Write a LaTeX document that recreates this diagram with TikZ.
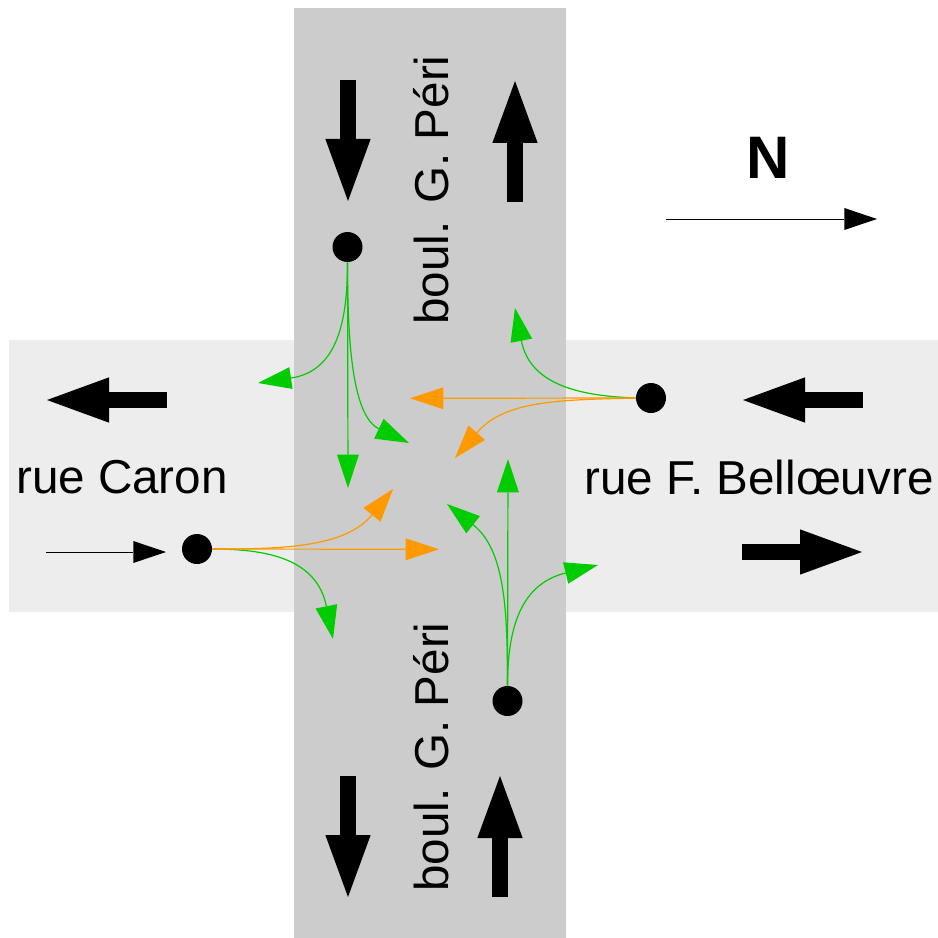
\documentclass[tikz,border=0pt]{standalone}
\usepackage{fontspec}
\setmainfont{Liberation Sans}
\usetikzlibrary{arrows.meta}
\definecolor{roadlight}{HTML}{EDEDED}
\definecolor{roaddark}{HTML}{CCCCCC}
\definecolor{turngreen}{HTML}{00CC00}
\definecolor{turnorange}{HTML}{FF9900}
\tikzset{
  dot/.style={circle,fill=black,inner sep=0pt,minimum size=22.5pt},
  streetlabel/.style={inner sep=0pt,font=\fontsize{35.7}{40}\selectfont},
  bigarrow/.style={line width=12pt,-{Triangle[length=46.5pt,width=34pt,line width=0pt]}},
  thinarrow/.style={line width=.5pt,-{Triangle[length=24.5pt,width=16.5pt,line width=0pt]}},
  turn/.style={line width=.9pt,-{Triangle[length=25pt,width=16.5pt,line width=0pt]}},
  turng/.style={turn,color=turngreen},
  turno/.style={turn,color=turnorange},
}
\begin{document}
\begin{tikzpicture}[x=.75pt,y=-.75pt]
\useasboundingbox (0,0) rectangle (938,938);
\fill[roadlight] (9,340) rectangle (938,612);
\fill[roaddark] (294,8) rectangle (566,938);
% labels
\node[streetlabel,rotate=90] (periN) at (431,190) {boul. G. Péri};
\node[streetlabel,rotate=90] (periS) at (431,757) {boul. G. Péri};
\node[streetlabel] (caron) at (122,477) {rue Caron};
\node[streetlabel] (bell) at (759,477) {rue F. Bellœuvre};
\node[inner sep=0pt,font=\fontsize{45}{50}\selectfont\bfseries] (north) at (768,158) {N};
% dots
\node[dot] (dN) at (347.5,247) {};
\node[dot] (dW) at (197,549) {};
\node[dot] (dE) at (651,398) {};
\node[dot] (dS) at (507.5,701) {};
% big arrows
\coordinate (a1s) at (348,80);  \coordinate (a1e) at (348,201);
\coordinate (a2s) at (515,202); \coordinate (a2e) at (515,81);
\coordinate (a3s) at (348,776); \coordinate (a3e) at (348,897);
\coordinate (a4s) at (500,897); \coordinate (a4e) at (500,776);
\coordinate (a5s) at (167,400); \coordinate (a5e) at (47,400);
\coordinate (a6s) at (863,400); \coordinate (a6e) at (743,400);
\coordinate (a7s) at (742,552); \coordinate (a7e) at (862,552);
\draw[bigarrow] (a1s) -- (a1e);
\draw[bigarrow] (a2s) -- (a2e);
\draw[bigarrow] (a3s) -- (a3e);
\draw[bigarrow] (a4s) -- (a4e);
\draw[bigarrow] (a5s) -- (a5e);
\draw[bigarrow] (a6s) -- (a6e);
\draw[bigarrow] (a7s) -- (a7e);
% thin arrows
\coordinate (tws) at (46,552);  \coordinate (twe) at (166,552);
\coordinate (nas) at (666,219); \coordinate (nae) at (877,219);
\draw[thinarrow] (tws) -- (twe);
\draw[thinarrow] (nas) -- (nae);
% north dot
\coordinate (n1) at (258,383);
\coordinate (n2) at (409,443);
\coordinate (n3) at (348,488);
\draw[turng] (dN.south) .. controls (347.5,320) and (338,371) .. (n1);
\draw[turng] (dN.south) .. controls (347.5,340) and (352,416) .. (n2);
\draw[turng] (dN.south) -- (n3);
% west dot
\coordinate (w1) at (393,489);
\coordinate (w2) at (439,549.3);
\coordinate (w3) at (333,639);
\draw[turng] (dW.east) .. controls (270,549) and (317,560) .. (w3);
\draw[turno] (dW.east) .. controls (280,549) and (345,548) .. (w1);
\draw[turno] (dW.east) -- (w2);
% east dot
\coordinate (e1) at (410,398.3);
\coordinate (e2) at (455,458);
\coordinate (e3) at (515,308);
\draw[turng] (dE.west) .. controls (580,396) and (530,385) .. (e3);
\draw[turno] (dE.west) .. controls (560,400) and (505,400) .. (e2);
\draw[turno] (dE.west) -- (e1);
% south dot
\coordinate (s1) at (447,504);
\coordinate (s2) at (508,459);
\coordinate (s3) at (598,565);
\draw[turng] (dS.north) .. controls (507.5,610) and (505,550) .. (s1);
\draw[turng] (dS.north) -- (s2);
\draw[turng] (dS.north) .. controls (507.5,620) and (525,583) .. (s3);
\end{tikzpicture}
\end{document}
